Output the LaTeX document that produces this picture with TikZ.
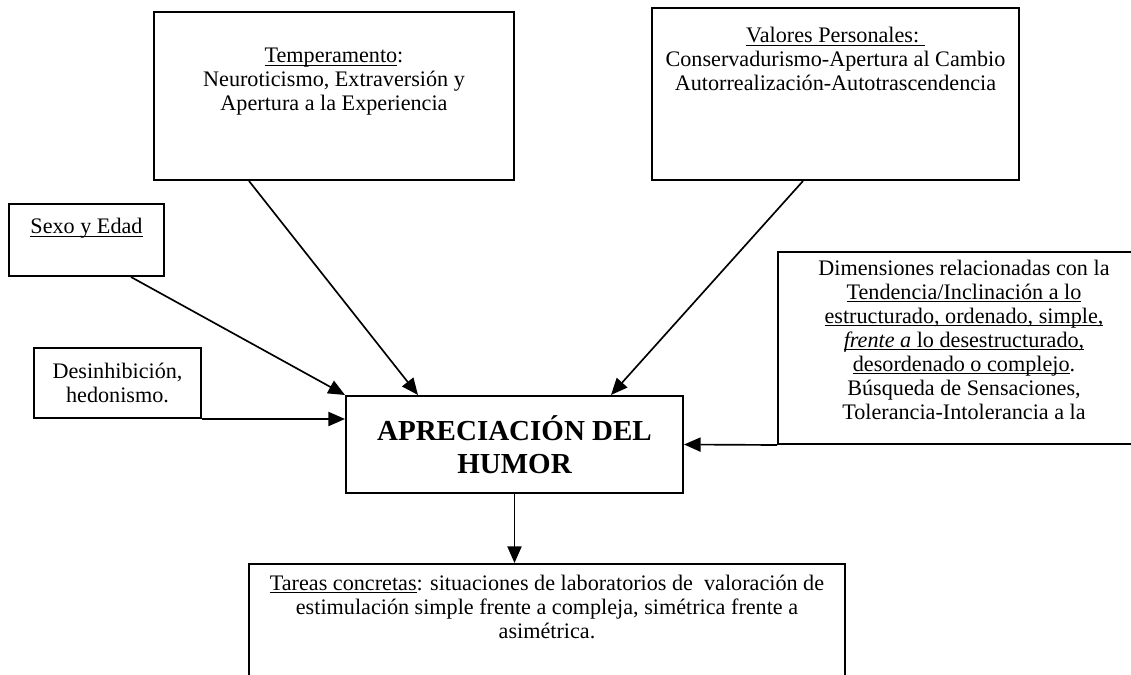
\documentclass[tikz,border=0pt]{standalone}
\usepackage{fontspec}
\setmainfont{Liberation Serif}
\usetikzlibrary{arrows.meta, positioning, calc}
\newcommand{\undl}[1]{\underline{\raisebox{0pt}[\height][0pt]{#1}}}

\begin{document}
\begin{tikzpicture}[x=0.6pt, y=-0.6pt,
  box/.style={draw, line width=1.2pt, anchor=north west, inner sep=0pt},
  txt/.style={align=center, inner sep=0pt, font=\fontsize{13.3}{14.4}\selectfont},
  arr/.style={-{Triangle[length=10pt,width=8.5pt]}, line width=1pt}]
  \useasboundingbox (0,0) rectangle (1131,675);
  \clip (0,0) rectangle (1131,675);

  % boxes
  \node[box, minimum width=216pt, minimum height=100.8pt] (temp) at (153,11) {};
  \node[box, minimum width=220.2pt, minimum height=103.2pt] (valores) at (651,7) {};
  \node[box, minimum width=93pt, minimum height=43.2pt] (sexo) at (8,203) {};
  \node[box, txt, minimum width=100.2pt, minimum height=42pt] (desinh) at (33,347)
    {Desinhibición,\\ hedonismo.};
  \node[box, align=center, minimum width=202.2pt, minimum height=58.2pt,
    font=\fontsize{17.4}{20}\selectfont\bfseries] (main) at (345,395)
    {APRECIACIÓN DEL\\ HUMOR};
  \node[box, minimum width=223.2pt, minimum height=115.2pt] (dim) at (777,251) {};
  \node[box, minimum width=357.6pt, minimum height=82.2pt] (tareas) at (248,563) {};

  % texts
  \node[txt, below=22pt of temp.north] (temptxt)
    {\undl{Temperamento}:\\ Neuroticismo, Extraversión y\\ Apertura a la Experiencia};
  \node[txt, below=12pt of valores.north] (valtxt)
    {\undl{Valores Personales:\ }\\ Conservadurismo-Apertura al Cambio\\ Autorrealización-Autotrascendencia};
  \node[txt, below=9pt of sexo.north] (sexotxt) {\undl{Sexo y Edad}};
  \node[txt, below=5pt of dim.north] (dimtxt)
    {Dimensiones relacionadas con la\\ \undl{Tendencia/Inclinación a lo}\\
     \undl{estructurado, ordenado, simple,}\\ \undl{\textit{frente a} lo desestructurado,}\\
     \undl{desordenado o complejo}.\\ Búsqueda de Sensaciones,\\ Tolerancia-Intolerancia a la};
  \node[txt, below=7pt of tareas.north] (tartxt)
    {\undl{Tareas concretas}: situaciones de laboratorios de \ valoración de\\
     estimulación simple frente a compleja, simétrica frente a\\ asimétrica.};

  % arrows
  \draw[arr] ($(sexo.south)+(44.5,0)$) -- (main.north west);
  \draw[arr] (desinh.south east) -- (main.west |- desinh.south east);
  \draw[arr] ($(temp.south)+(-85,0)$) -- ($(main.north)+(-96.5,0)$);
  \draw[arr] ($(valores.south)+(-32.5,0)$) -- ($(main.north)+(96.5,0)$);
  \draw[arr] (dim.south west) -- (main.east);
  \draw[arr] (main.south) -- (main.south |- tareas.north);
\end{tikzpicture}
\end{document}
